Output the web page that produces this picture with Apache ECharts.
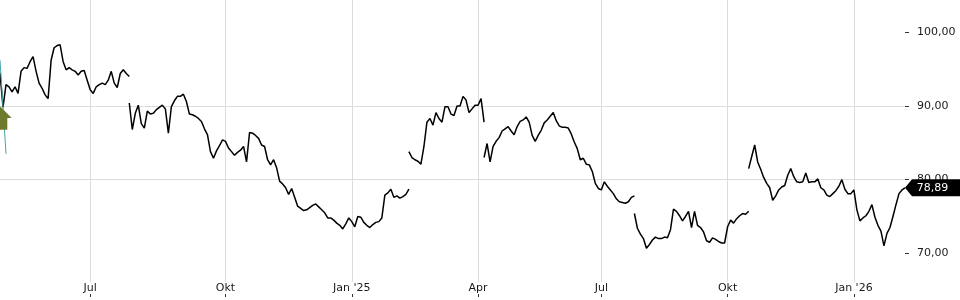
<!DOCTYPE html>
<html><head><meta charset="utf-8">
<script src="https://cdn.jsdelivr.net/npm/echarts@6/dist/echarts.min.js"></script>
<style>html,body{margin:0;padding:0;background:#fff}#c{width:960px;height:300px}</style>
</head><body><div id="c"></div>
<script>
// ---- data ----
const sampleCount = 302;
const monthTickIdx = [30, 75, 117, 159, 200, 242, 284];
const monthTickText = ['Jul', 'Okt', "Jan '25", 'Apr', 'Jul', 'Okt', "Jan '26"];
const yTicks = [70, 80, 90, 100];
const segStart = [0, 43, 136, 161, 211, 249];
const seg1 = [94.5,89.8,92.9,92.6,91.9,92.6,91.7,94.7,95.2,95.1,96.0,96.7,94.7,93.1,92.4,91.5,91.0,96.2,97.9,98.2,98.3,96.0,94.9,95.2,94.9,94.7,94.2,94.7,94.8,93.5,92.2,91.7,92.6,92.9,93.1,92.9,93.5,94.7,93.1,92.5,94.4,94.9,94.4,94.0];
const seg2 = [90.4,86.8,89.0,90.1,87.6,87.0,89.3,88.9,89.0,89.5,89.8,90.1,89.6,86.3,89.9,90.7,91.3,91.3,91.6,90.6,88.9,88.8,88.6,88.3,87.9,86.9,86.1,83.8,82.9,83.9,84.6,85.4,85.2,84.3,83.8,83.3,83.7,84.0,84.5,82.4,86.4,86.3,86.0,85.6,84.7,84.5,82.7,82.0,82.7,81.6,79.8,79.4,78.9,78.0,78.8,77.6,76.4,76.1,75.8,75.9,76.2,76.5,76.7,76.3,75.9,75.5,74.8,74.8,74.5,74.1,73.8,73.3,74.0,74.8,74.3,73.6,75.0,74.9,74.2,73.8,73.5,73.9,74.2,74.3,74.8,77.9,78.2,78.7,77.6,77.8,77.5,77.7,78.0,78.7];
const seg3 = [83.8,83.0,82.7,82.5,82.1,84.5,87.8,88.3,87.4,89.1,88.3,87.8,89.9,89.9,88.9,88.7,90.0,90.0,91.3,90.8,89.1,89.6,90.1,90.1,91.0,87.8];
const seg4 = [83.0,84.9,82.4,84.5,85.2,85.7,86.6,86.9,87.2,86.6,86.1,87.2,87.9,88.1,88.5,87.8,86.0,85.2,86.0,86.7,87.7,88.1,88.6,89.1,88.0,87.3,87.1,87.1,87.0,86.2,85.1,84.2,82.7,82.9,82.1,82.0,81.1,79.5,78.8,78.6,79.7,79.1,78.6,78.1,77.4,77.0,76.9,76.8,77.0,77.6,77.8];
const seg5 = [75.4,73.4,72.6,72.0,70.7,71.2,71.8,72.2,72.0,72.0,72.2,72.1,73.2,76.0,75.7,75.1,74.4,75.0,75.7,73.5,75.7,73.8,73.5,72.9,71.7,71.5,72.1,71.9,71.6,71.4,71.4,73.6,74.5,74.1,74.7,75.1,75.4,75.3,75.7];
const seg6 = [81.5,83.1,84.7,82.4,81.4,80.3,79.5,78.9,77.2,77.8,78.6,79.0,79.2,80.6,81.5,80.4,79.7,79.6,79.7,80.9,79.6,79.7,79.7,80.1,78.9,78.6,77.9,77.7,78.1,78.5,79.1,80.0,78.7,78.1,78.1,78.6,75.9,74.4,74.8,75.1,75.7,76.6,74.9,73.8,73.0,71.0,72.7,73.5,75.0,76.6,78.1,78.6,78.89];
const segments = [seg1, seg2, seg3, seg4, seg5, seg6];
const lastValue = 78.89;
const arrowValue = 88.37;
const trendLine = [[0, 96.2], [2, 83.5]];

// ---- chart ----
const FONT = 'DejaVu Sans';
const categories = Array.from({length: sampleCount}, (_, i) => i);
const tickSet = new Map(monthTickIdx.map((i, k) => [i, monthTickText[k]]));
const isTick = (idx) => tickSet.has(idx);
const fmt = (v) => v.toFixed(2).replace('.', ',');

const series = segments.map((seg, k) => {
  const arr = new Array(sampleCount).fill(null);
  seg.forEach((v, j) => { arr[segStart[k] + j] = v; });
  return {
    type: 'line', data: arr, showSymbol: false, connectNulls: false, silent: true,
    animation: false, lineStyle: { color: '#000', width: 1.5 }, z: 3
  };
});
series[0].markPoint = {
  silent: true, animation: false,
  symbol: 'path://M12,0 L24,12 L19.5,12 L19.5,24 L4.5,24 L4.5,12 L0,12 Z',
  symbolSize: [23.4, 23.5], itemStyle: { color: '#6e7b2d' }, label: { show: false },
  data: [{ coord: [0, arrowValue] }]
};
series[0].markLine = {
  silent: true, animation: false, symbol: ['none', 'none'],
  lineStyle: { color: '#45a3a8', width: 1, type: 'solid' }, label: { show: false },
  data: [[{ coord: trendLine[0] }, { coord: trendLine[1] }]]
};
series[5].markPoint = {
  silent: true, animation: false,
  symbol: 'path://M0,8.5 L7,0 L55,0 L55,17 L7,17 Z',
  symbolSize: [55, 17], symbolOffset: [27.5, 0], itemStyle: { color: '#000' },
  label: { show: true, position: 'inside', offset: [0, 0], formatter: () => fmt(lastValue), color: '#fff', fontSize: 11, fontFamily: FONT },
  data: [{ coord: [sampleCount - 1, lastValue] }]
};

const chart = echarts.init(document.getElementById('c'), null, { renderer: 'canvas' });
chart.setOption({
  animation: false,
  backgroundColor: '#fff',
  textStyle: { fontFamily: FONT },
  grid: { left: 0, right: 55, top: 0, bottom: 3, containLabel: false },
  xAxis: {
    type: 'category', data: categories, boundaryGap: false,
    axisLine: { show: false },
    axisTick: { show: true, inside: true, length: 4, interval: isTick, lineStyle: { color: '#333' } },
    axisLabel: {
      inside: true, interval: isTick, formatter: (v, idx) => tickSet.get(idx) || '',
      margin: 3, color: '#1a1a1a', fontSize: 11, fontFamily: FONT,
      backgroundColor: '#fff', padding: [1, 2, 0, 2]
    },
    splitLine: { show: true, interval: isTick, lineStyle: { color: '#dcdcdc', width: 1 } }
  },
  yAxis: {
    type: 'value', position: 'right', min: 64.07, max: 104.38, scale: true,
    axisLine: { show: false },
    axisTick: { show: true, length: 4, customValues: yTicks, lineStyle: { color: '#333' } },
    axisLabel: { customValues: yTicks, margin: 12, formatter: fmt, color: '#1a1a1a', fontSize: 11, fontFamily: FONT },
    splitLine: { show: true, showMinLine: false, showMaxLine: false, lineStyle: { color: '#dcdcdc', width: 1 } }
  },
  series: series
});
</script>
</body></html>
